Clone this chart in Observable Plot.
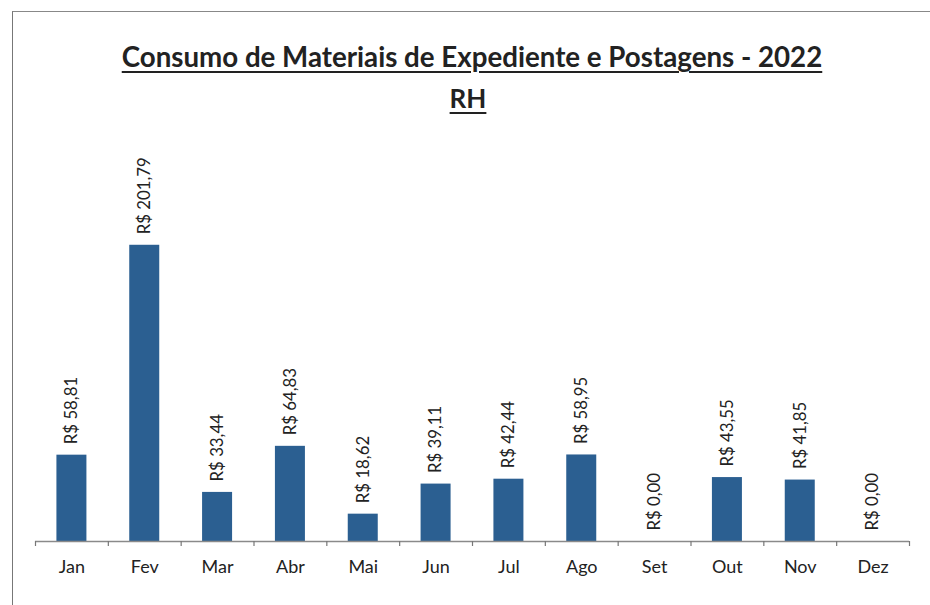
<!DOCTYPE html>
<html>
<head>
<meta charset="utf-8">
<script src="https://cdn.jsdelivr.net/npm/d3@7"></script>
<script src="https://cdn.jsdelivr.net/npm/@observablehq/plot@0.6"></script>
<style>
  html, body { margin: 0; padding: 0; background: #fff; }
  #wrap { position: relative; width: 930px; height: 605px; overflow: hidden; font-family: Lato, "Open Sans", sans-serif; }
  #frame { position: absolute; left: 12px; top: 11px; width: 940px; height: 620px; border-left: 1.5px solid #777; border-top: 1.5px solid #888; }
  #title { position: absolute; left: 0; width: 944px; top: 40px; text-align: center; font-weight: bold; font-size: 27.7px; color: #222; text-decoration: underline; text-underline-offset: 4px; text-decoration-thickness: 2px; }
  #subtitle { position: absolute; left: 0; width: 936px; top: 82px; text-align: center; font-weight: bold; font-size: 26px; color: #222; text-decoration: underline; text-underline-offset: 4px; text-decoration-thickness: 2px; }
  #chart { position: absolute; left: 0; top: 0; }
</style>
</head>
<body>
<div id="wrap">
  <div id="frame"></div>
  <div id="chart"></div>
  <div id="title">Consumo de Materiais de Expediente e Postagens - 2022</div>
  <div id="subtitle">RH</div>
</div>
<script>
const months = ["Jan", "Fev", "Mar", "Abr", "Mai", "Jun", "Jul", "Ago", "Set", "Out", "Nov", "Dez"];
const values = [58.81, 201.79, 33.44, 64.83, 18.62, 39.11, 42.44, 58.95, 0, 43.55, 41.85, 0];

const data = months.map((m, i) => ({month: m, value: values[i]}));
const fmt = v => "R$ " + v.toFixed(2).replace(".", ",");

const W = 930, H = 605;
const mL = 35, mR = 21, mT = 174, mB = 64;
const bw = (W - mL - mR) / months.length;
const barW = 30;
const inset = (bw - barW) / 2;
const plotH = H - mT - mB;

const chart = Plot.plot({
  width: W,
  height: H,
  marginLeft: mL,
  marginRight: mR,
  marginTop: mT,
  marginBottom: mB,
  style: {fontFamily: "Lato, 'Open Sans', sans-serif", background: "transparent", color: "#222"},
  x: {domain: months, padding: 0, round: false},
  y: {domain: [0, 250], axis: null},
  marks: [
    Plot.barY(data, {x: "month", y: "value", fill: "#2b5f91", insetLeft: inset, insetRight: inset}),
    Plot.ruleY([0], {stroke: "#8a8a8a", strokeWidth: 1.5}),
    Plot.ruleX(months, {x: d => d, dx: -bw / 2, insetTop: plotH, insetBottom: -5, stroke: "#777", strokeWidth: 1.2}),
    Plot.ruleX(months.slice(-1), {x: d => d, dx: bw / 2, insetTop: plotH, insetBottom: -5, stroke: "#777", strokeWidth: 1.2}),
    Plot.text(data, {x: "month", y: "value", text: d => fmt(d.value), rotate: -90, textAnchor: "start", dy: -11, fontSize: 16.8, fill: "#222"}),
    Plot.axisX({tickSize: 0, tickPadding: 19, fontSize: 18, label: null, fill: "#222"})
  ]
});
document.getElementById("chart").appendChild(chart);
</script>
</body>
</html>
